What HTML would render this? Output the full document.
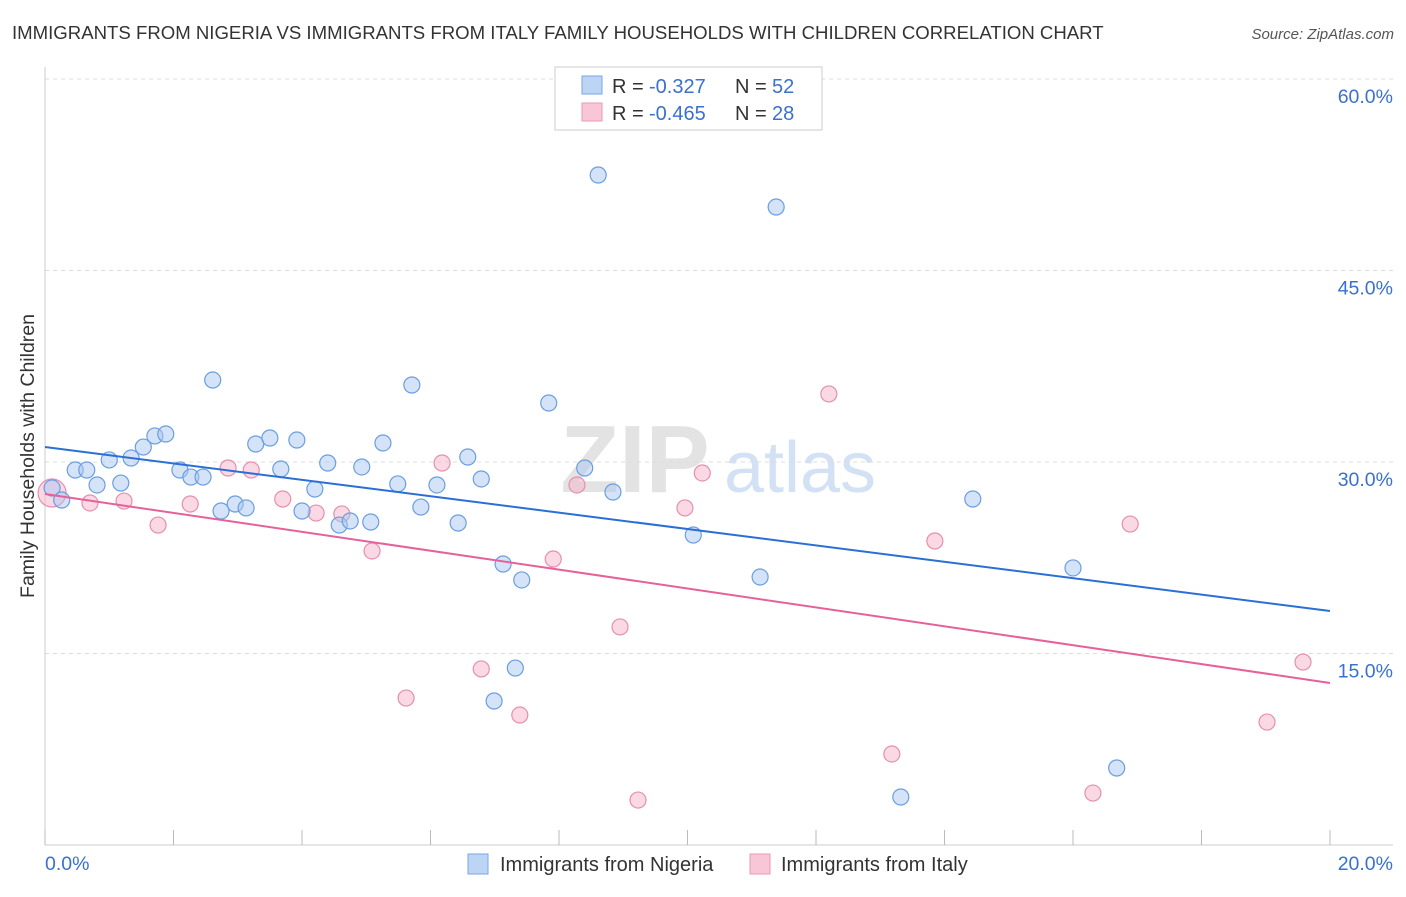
<!DOCTYPE html>
<html><head><meta charset="utf-8"><style>
body{margin:0;background:#fff;font-family:"Liberation Sans",sans-serif;}
svg text{font-family:"Liberation Sans",sans-serif;}
</style></head><body>
<svg id="c" width="1406" height="892" xmlns="http://www.w3.org/2000/svg">
<text x="12" y="39" font-size="18.6" fill="#333">IMMIGRANTS FROM NIGERIA VS IMMIGRANTS FROM ITALY FAMILY HOUSEHOLDS WITH CHILDREN CORRELATION CHART</text>
<text x="1394" y="39" font-size="15" fill="#555" font-style="italic" text-anchor="end">Source: ZipAtlas.com</text>
<g><text x="635" y="492" font-size="96" fill="#ddd" font-family="Liberation Serif" text-anchor="middle" font-weight="bold" opacity="0.8">ZIP</text><text x="800" y="492" font-size="72" fill="#c8daf2" text-anchor="middle" opacity="0.8">atlas</text></g>
<g id="grid"></g><g id="marks"></g>
<text transform="translate(34,456) rotate(-90)" font-size="19.5" fill="#333" text-anchor="middle">Family Households with Children</text>
<g>
<rect x="555" y="67" width="267" height="63" fill="#fff" stroke="#ccc"/>
<rect x="582" y="76" width="20" height="18" fill="#bcd5f5" stroke="#7aa6e6"/>
<text y="93" font-size="20" fill="#333"><tspan x="612">R =</tspan><tspan x="649" fill="#3a70d0">-0.327</tspan><tspan x="735">N =</tspan><tspan x="772" fill="#3a70d0">52</tspan></text>
<rect x="582" y="103" width="20" height="18" fill="#f8c6d6" stroke="#ea9ab6"/>
<text y="120" font-size="20" fill="#333"><tspan x="612">R =</tspan><tspan x="649" fill="#3a70d0">-0.465</tspan><tspan x="735">N =</tspan><tspan x="772" fill="#3a70d0">28</tspan></text>
</g>
<g>
<rect x="468" y="854" width="20" height="20" fill="#bcd5f5" stroke="#7aa6e6"/>
<text x="500" y="871" font-size="20" fill="#333">Immigrants from Nigeria</text>
<rect x="750" y="854" width="20" height="20" fill="#f8c6d6" stroke="#ea9ab6"/>
<text x="781" y="871" font-size="20" fill="#333">Immigrants from Italy</text>
</g>
</svg>
<script>
const nigeriaX=[0.11,0.26,0.47,0.65,0.81,1.00,1.18,1.34,1.53,1.71,1.88,2.10,2.27,2.46,2.61,2.74,2.96,3.13,3.28,3.50,3.67,3.92,4.00,4.20,4.40,4.58,4.75,4.93,5.07,5.26,5.49,5.71,5.85,6.10,6.43,6.58,6.79,7.13,6.99,7.32,7.42,7.84,8.40,8.61,8.84,10.09,11.13,11.38,13.32,14.44,16.00,16.68];
const nigeriaY=[27.96,27.02,29.37,29.37,28.20,30.16,28.35,30.31,31.17,32.04,32.19,29.37,28.82,28.82,36.42,26.16,26.71,26.40,31.41,31.88,29.45,31.72,26.16,27.88,29.92,25.06,25.38,29.61,25.30,31.49,28.28,36.03,26.47,28.20,25.22,30.39,28.67,22.01,11.28,13.86,20.76,34.62,29.53,52.48,27.65,24.28,20.99,49.97,3.76,27.10,21.70,6.03];
const italyX=[0.11,0.70,1.23,1.76,2.26,2.85,3.21,3.70,4.22,4.62,5.09,5.62,6.18,6.79,7.39,7.91,8.28,8.95,9.23,9.96,10.23,12.20,13.18,13.85,16.31,16.89,19.02,19.58];
const italyY=[27.57,26.79,26.94,25.06,26.71,29.53,29.37,27.10,26.00,25.93,23.03,11.51,29.92,13.79,10.18,22.40,28.20,17.08,3.52,26.40,29.14,35.33,7.13,23.81,4.07,25.14,9.63,14.33];
const nigeriaTrend=[31.17,18.33];
const italyTrend=[27.49,12.69];
const yTicks=[15,30,45,60];
const yTickLabels=["15.0%","30.0%","45.0%","60.0%"];
const xTicks=[0,2,4,6,8,10,12,14,16,18,20];
const NS='http://www.w3.org/2000/svg';
const sx=v=>45+v*64.25, sy=v=>845-v*12.767;
function mk(t,a,p){const e=document.createElementNS(NS,t);for(const k in a)e.setAttribute(k,a[k]);p.appendChild(e);return e;}
const g=document.getElementById('grid'),m=document.getElementById('marks');
yTicks.forEach((v,i)=>{
 const l=mk('line',{x1:45,x2:1393,y1:sy(v),y2:sy(v),stroke:'#ddd','stroke-dasharray':'4,4'},g);
 
 
 const t=mk('text',{x:1393,y:sy(v)+24,'font-size':19.5,fill:'#3a70d0','text-anchor':'end'},g);
 t.textContent=yTickLabels[i];
 
 
});
mk('line',{x1:45,x2:1393,y1:sy(0),y2:sy(0),stroke:'#ccc'},g);
mk('line',{x1:45,x2:45,y1:67,y2:845,stroke:'#ccc'},g);
xTicks.forEach(v=>{
 const l=mk('line',{x1:sx(v),x2:sx(v),y1:830,y2:845,stroke:'#bbb'},g);
 
 
});
[[0,'0.0%','start',45],[20,'20.0%','end',1393]].forEach(d=>{
 const t=mk('text',{x:d[3],y:870,'font-size':19.5,fill:'#3a70d0','text-anchor':d[2]},g);
 t.textContent=d[1];
 
 
});
function pts(X,Y,fill,stroke,name){
 X.forEach((x,i)=>{
  const c=mk('circle',{cx:sx(x),cy:sy(Y[i]),r:(i===0&&name==='italy-point')?14:8,fill:fill,'fill-opacity':0.5,stroke:stroke,'stroke-width':1.2},m);
  
  
 });
}
pts(italyX,italyY,'#f5b4c9','#e58fae','italy-point');
pts(nigeriaX,nigeriaY,'#a9c8f0','#6a9ee0','nigeria-point');
const tb=mk('line',{x1:sx(0),y1:sy(nigeriaTrend[0]),x2:sx(20),y2:sy(nigeriaTrend[1]),stroke:'#2a6fd6','stroke-width':2},m);


const tp=mk('line',{x1:sx(0),y1:sy(italyTrend[0]),x2:sx(20),y2:sy(italyTrend[1]),stroke:'#e6609a','stroke-width':2},m);


</script>
</body></html>
